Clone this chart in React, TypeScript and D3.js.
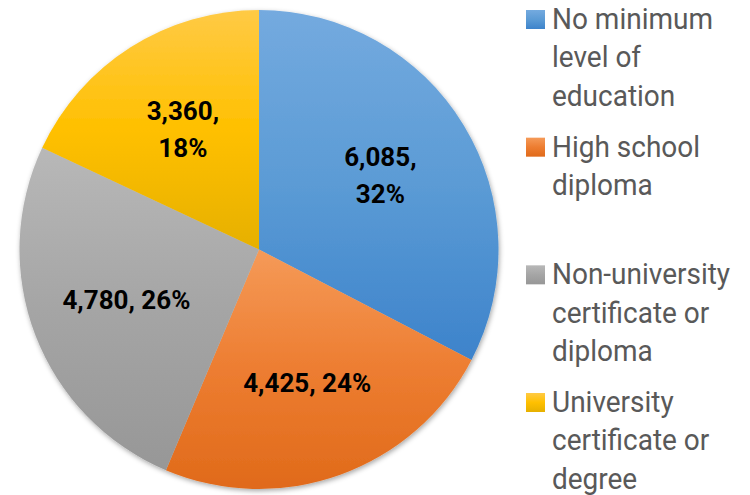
import React from 'react';
import * as d3 from 'd3';

// Education level of respondents
const categories = [
  'No minimum level of education',
  'High school diploma',
  'Non-university certificate or diploma',
  'University certificate or degree',
];
const values = [6085, 4425, 4780, 3360];
const percents = [32, 24, 26, 18];
// legend text as it wraps in the original
const legendLines = [
  ['No minimum', 'level of', 'education'],
  ['High school', 'diploma'],
  ['Non-university', 'certificate or', 'diploma'],
  ['University', 'certificate or', 'degree'],
];
// data label wraps onto two lines for the narrow slices
const wrapLabel = [true, false, false, true];
// light / base / dark stops for each slice's gradient
const colors = [
  ['#74aadf', '#5b9bd5', '#3d83cb'],
  ['#f59a58', '#ed7d31', '#e06a1a'],
  ['#b8b8b8', '#a5a5a5', '#979797'],
  ['#ffca45', '#ffc000', '#e6b000'],
];

const W = 750;
const H = 495;

const App: React.FC = () => {
  const svgRef = React.useRef<SVGSVGElement>(null);

  React.useEffect(() => {
    if (!svgRef.current) return;
    const svg = d3.select(svgRef.current);
    svg.selectAll('*').remove();

    const cx = 259;
    const cy = 249.5;
    const radius = 239.5;

    const defs = svg.append('defs');
    colors.forEach((c, i) => {
      const grad = defs.append('linearGradient')
        .attr('id', `grad${i}`)
        .attr('x1', 0).attr('y1', 0)
        .attr('x2', 0).attr('y2', 1);
      grad.append('stop').attr('offset', '0%').attr('stop-color', c[0]);
      grad.append('stop').attr('offset', '50%').attr('stop-color', c[1]);
      grad.append('stop').attr('offset', '100%').attr('stop-color', c[2]);
    });
    const shadow = defs.append('filter')
      .attr('id', 'shadow')
      .attr('x', '-10%').attr('y', '-10%')
      .attr('width', '120%').attr('height', '120%');
    shadow.append('feDropShadow')
      .attr('dx', 1).attr('dy', 2)
      .attr('stdDeviation', 2.5)
      .attr('flood-color', '#000')
      .attr('flood-opacity', 0.35);

    const pie = d3.pie<number>().sort(null).value(d => d);
    const arcs = pie(values);
    const arc = d3.arc<d3.PieArcDatum<number>>().innerRadius(0).outerRadius(radius);
    const labelArc = d3.arc<d3.PieArcDatum<number>>().innerRadius(142).outerRadius(142);

    const g = svg.append('g').attr('transform', `translate(${cx},${cy})`);

    g.append('g')
      .attr('filter', 'url(#shadow)')
      .selectAll('path')
      .data(arcs)
      .enter().append('path')
      .attr('d', arc)
      .attr('fill', (d, i) => `url(#grad${i})`);

    // data labels
    const fmt = d3.format(',');
    const lineH = 37;
    arcs.forEach((d, i) => {
      const [lx, ly] = labelArc.centroid(d);
      const lines = wrapLabel[i]
        ? [`${fmt(values[i])},`, `${percents[i]}%`]
        : [`${fmt(values[i])}, ${percents[i]}%`];
      const t = g.append('text')
        .attr('text-anchor', 'middle')
        .attr('font-family', 'Roboto, sans-serif')
        .attr('font-weight', 'bold')
        .attr('font-size', 26)
        .attr('fill', '#000');
      lines.forEach((line, j) => {
        t.append('tspan')
          .attr('x', lx)
          .attr('y', ly + (j - (lines.length - 1) / 2) * lineH + 9)
          .text(line);
      });
    });

    // legend
    const itemY = d3.scaleLinear()
      .domain([0, categories.length - 1])
      .range([29, 412]);
    const legendX = 552;
    const legend = svg.append('g')
      .attr('font-family', 'Roboto, sans-serif')
      .attr('font-size', 29)
      .attr('fill', '#595959');
    categories.forEach((cat, i) => {
      const y0 = itemY(i);
      const item = legend.append('g').attr('class', 'legend-item').attr('data-name', cat);
      item.append('rect')
        .attr('x', 526)
        .attr('y', y0 - 19)
        .attr('width', 19)
        .attr('height', 19)
        .attr('fill', `url(#grad${i})`);
      // the original face is a touch narrower than Roboto
      const t = item.append('text')
        .attr('transform', `translate(${legendX},0) scale(0.965,1)`);
      legendLines[i].forEach((line, j) => {
        t.append('tspan')
          .attr('x', 0)
          .attr('y', y0 + j * 38.5)
          .text(line);
      });
    });
  }, []);

  return (
    <svg
      ref={svgRef}
      width={W}
      height={H}
      viewBox={`0 0 ${W} ${H}`}
      style={{ display: 'block', position: 'absolute', left: 0, top: 0, background: '#fff' }}
    />
  );
};

export default App;
